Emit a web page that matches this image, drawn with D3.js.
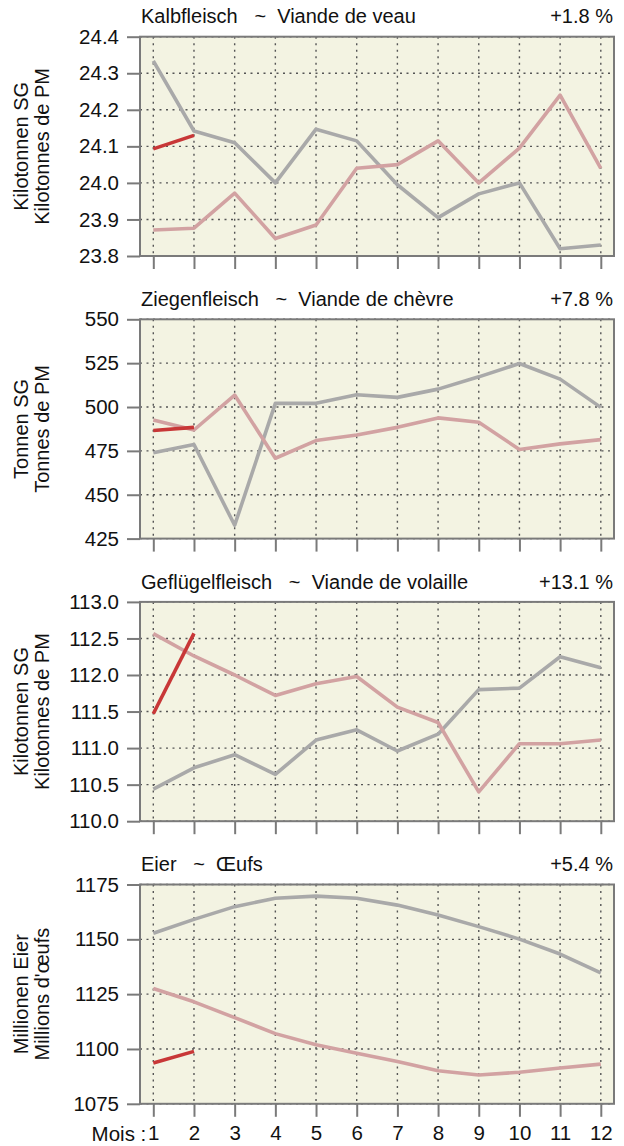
<!DOCTYPE html>
<html>
<head>
<meta charset="utf-8">
<script src="https://cdn.jsdelivr.net/npm/d3@7"></script>
<style>
  body { margin: 0; background: #fff; }
  text { font-family: "Liberation Sans", Arial, sans-serif; fill: #111; }
</style>
</head>
<body>
<div id="chart"></div>
<script>
let width = 624;
let height = 1146;

// months on the x axis
let months = [1,2,3,4,5,6,7,8,9,10,11,12];

// Kalbfleisch
let kalbGrey = [24.334,24.142,24.110,24.000,24.147,24.115,23.995,23.905,23.970,24.000,23.820,23.830];
let kalbPink = [23.871,23.876,23.972,23.848,23.885,24.040,24.050,24.115,24.000,24.095,24.240,24.040];
let kalbRed  = [24.093,24.130];
let kalbTicks = [23.8,23.9,24.0,24.1,24.2,24.3,24.4];

// Ziegenfleisch
let ziegeGrey = [473.9,478.6,432.6,502.1,502.1,507.0,505.5,510.2,517.2,524.8,515.9,499.8];
let ziegePink = [492.6,486.9,506.8,470.8,480.9,484.1,488.4,493.8,491.3,475.8,479.0,481.4];
let ziegeRed  = [486.6,488.4];
let ziegeTicks = [425,450,475,500,525,550];

// Geflügelfleisch
let gefluGrey = [110.44,110.73,110.91,110.64,111.11,111.25,110.96,111.19,111.80,111.82,112.25,112.10];
let gefluPink = [112.565,112.26,112.00,111.72,111.88,111.98,111.56,111.35,110.40,111.06,111.06,111.11];
let gefluRed  = [111.47,112.57];
let gefluTicks = [110.0,110.5,111.0,111.5,112.0,112.5,113.0];

// Eier
let eierGrey = [1152.8,1159.1,1164.9,1168.7,1169.7,1168.7,1165.6,1161.1,1155.8,1150.1,1143.3,1134.7];
let eierPink = [1127.6,1121.5,1114.3,1107.0,1101.9,1098.0,1094.3,1090.1,1088.1,1089.4,1091.3,1093.1];
let eierRed  = [1093.6,1098.9];
let eierTicks = [1075,1100,1125,1150,1175];

let panels = [
  {name:"Kalbfleisch   ~  Viande de veau", change:"+1.8 %", unit:["Kilotonnen SG","Kilotonnes de PM"],
   ticks:kalbTicks, fmt:".1f", grey:kalbGrey, pink:kalbPink, red:kalbRed},
  {name:"Ziegenfleisch   ~  Viande de chèvre", change:"+7.8 %", unit:["Tonnen SG","Tonnes de PM"],
   ticks:ziegeTicks, fmt:"d", grey:ziegeGrey, pink:ziegePink, red:ziegeRed},
  {name:"Geflügelfleisch   ~  Viande de volaille", change:"+13.1 %", unit:["Kilotonnen SG","Kilotonnes de PM"],
   ticks:gefluTicks, fmt:".1f", grey:gefluGrey, pink:gefluPink, red:gefluRed},
  {name:"Eier   ~  Œufs", change:"+5.4 %", unit:["Millionen Eier","Millions d'œufs"],
   ticks:eierTicks, fmt:"d", grey:eierGrey, pink:eierPink, red:eierRed}
];

let svg = d3.select("#chart").append("svg")
            .attr("width",width)
            .attr("height",height);

let boxLeft = 140, boxRight = 614;
let firstTop = 36.7, step = 282.6, boxH = 219.3;

let x = d3.scaleLinear().domain([1,12]).range([153.3,600.8]);

panels.forEach(function(p, i){
    let top = firstTop + i*step;
    let bottom = top + boxH;
    let y = d3.scaleLinear().domain(d3.extent(p.ticks)).range([bottom, top]);
    let g = svg.append("g");

    // background
    g.append("rect")
     .attr("x",boxLeft).attr("y",top)
     .attr("width",boxRight-boxLeft).attr("height",boxH)
     .attr("fill","#f3f3e2");

    // dotted grid
    g.selectAll(".vgrid").data(months).enter().append("line")
     .attr("x1",d=>x(d)).attr("x2",d=>x(d))
     .attr("y1",top).attr("y2",bottom)
     .attr("stroke","#555").attr("stroke-width",1.4)
     .attr("stroke-dasharray","2,4.5");
    g.selectAll(".hgrid").data(p.ticks).enter().append("line")
     .attr("x1",boxLeft).attr("x2",boxRight)
     .attr("y1",d=>y(d)).attr("y2",d=>y(d))
     .attr("stroke","#555").attr("stroke-width",1.4)
     .attr("stroke-dasharray","2,4.5");

    // series
    let line = d3.line().x((d,k)=>x(months[k])).y(d=>y(d));
    [[p.grey,"#a9a9a9"],[p.pink,"#d2a2a2"],[p.red,"#c83737"]].forEach(function(s){
        g.append("path")
         .attr("d",line(s[0]))
         .attr("fill","none")
         .attr("stroke",s[1])
         .attr("stroke-width",3.6)
         .attr("stroke-linejoin","round");
    });

    // box
    g.append("rect")
     .attr("x",boxLeft).attr("y",top)
     .attr("width",boxRight-boxLeft).attr("height",boxH)
     .attr("fill","none").attr("stroke","#7a7a7a").attr("stroke-width",2);

    // y axis
    let yAxis = d3.axisLeft(y).tickValues(p.ticks).tickFormat(d3.format(p.fmt))
                  .tickSize(13).tickPadding(8);
    let ya = g.append("g").attr("transform","translate("+boxLeft+",0)").call(yAxis);
    ya.select(".domain").remove();
    ya.selectAll("line").attr("stroke","#7a7a7a").attr("stroke-width",2);
    ya.selectAll("text").attr("font-size",20.5).attr("font-family",null).attr("fill","#111");

    // x axis ticks
    let xAxis = d3.axisBottom(x).tickValues(months).tickSize(13).tickPadding(9)
                  .tickFormat(i == panels.length-1 ? d3.format("d") : "");
    let xa = g.append("g").attr("transform","translate(0,"+bottom+")").call(xAxis);
    xa.select(".domain").remove();
    xa.selectAll("line").attr("stroke","#7a7a7a").attr("stroke-width",2);
    xa.selectAll("text").attr("font-size",20.5).attr("font-family",null).attr("fill","#111");

    // titles
    g.append("text")
     .attr("x",boxLeft+1).attr("y",top-13.4)
     .attr("font-size",20)
     .style("white-space","pre")
     .text(p.name);
    g.append("text")
     .attr("x",boxRight-1).attr("y",top-13.4)
     .attr("font-size",20)
     .attr("text-anchor","end")
     .style("white-space","pre")
     .text(p.change);

    // unit labels
    let cy = (top+bottom)/2;
    p.unit.forEach(function(u, k){
        g.append("text")
         .attr("transform","translate("+(27.5+k*21.5)+","+cy+") rotate(-90)")
         .attr("text-anchor","middle")
         .attr("font-size",20)
         .text(u);
    });

    if(i == panels.length-1){
        g.append("text")
         .attr("x",x(1)-7).attr("y",bottom+37)
         .attr("font-size",20.5)
         .attr("text-anchor","end")
         .style("white-space","pre")
         .text("Mois :");
    }
});
</script>
</body>
</html>
